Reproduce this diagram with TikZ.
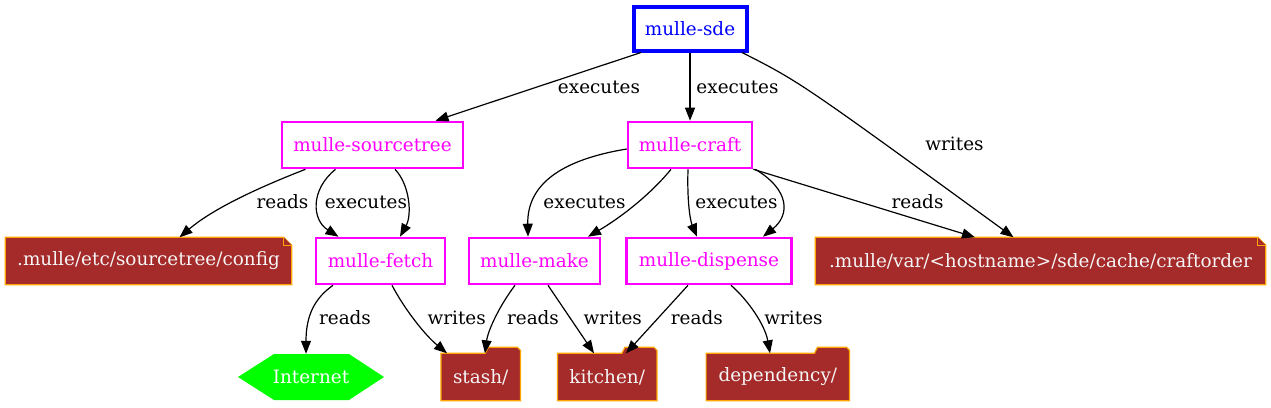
\documentclass[tikz,border=0pt]{standalone}
\usepackage{fontspec}
\setmainfont{DejaVu Serif}
\usetikzlibrary{arrows.meta,backgrounds,calc}
\definecolor{nbrown}{HTML}{A52A2A}
\definecolor{norange}{HTML}{FFA500}
\definecolor{ngreen}{HTML}{00FF00}
\definecolor{nmag}{HTML}{FF00FF}
\definecolor{nblue}{HTML}{0000FF}
\begin{document}
\begin{tikzpicture}[x=1pt,y=-1pt,
  font=\fontsize{18.4}{22}\selectfont,
  every node/.style={inner sep=0pt},
  toolbox/.style={draw=nmag, line width=2.6pt, text=nmag, minimum height=46pt},
  topbox/.style={draw=nblue, line width=4pt, text=nblue, minimum width=113pt, minimum height=44pt},
  filenode/.style={text=white!96!black, minimum height=47pt},
  lbl/.style={text=black},
  edge/.style={line width=1.2pt, -{Triangle[length=13pt,width=10pt]}},
  shapeln/.style={fill=nbrown, draw=norange, line width=1.2pt, line join=miter}
]
\useasboundingbox (0,0) rectangle (1271,407);

% tool nodes
\node[topbox] (sde) at (690,28.5) {mulle-sde};
\node[toolbox, minimum width=181pt] (st) at (372.5,145) {mulle-sourcetree};
\node[toolbox, minimum width=124pt] (craft) at (690,145) {mulle-craft};
\node[toolbox, minimum width=129pt] (fetch) at (380.5,261) {mulle-fetch};
\node[toolbox, minimum width=131pt] (make) at (534.5,261) {mulle-make};
\node[toolbox, minimum width=165pt] (disp) at (709,261) {mulle-dispense};

% notes
\node[filenode, minimum width=286pt] (cfg) at (148.5,261) {.mulle/etc/sourcetree/config};
\node[filenode, minimum width=450pt] (co) at (1040.5,261) {.mulle/var/<hostname>/sde/cache/craftorder};

% folders
\node[filenode, minimum width=79pt] (stash) at (480.7,377) {stash/};
\node[filenode, minimum width=99pt] (kit) at (607.2,377) {kitchen/};
\node[filenode, minimum width=143pt] (dep) at (777.8,377) {dependency/};

% internet
\node[text=white, minimum width=146pt, minimum height=46pt] (inet) at (311,377) {Internet};

\begin{scope}[on background layer]
  \foreach \n in {cfg,co}{
    \draw[shapeln] (\n.south west) -- (\n.north west) -- ([xshift=-8pt]\n.north east)
      -- ([yshift=-8pt]\n.north east) -- (\n.south east) -- cycle;
    \draw[shapeln] ([xshift=-8pt]\n.north east) -- ([xshift=-8pt,yshift=-8pt]\n.north east)
      -- ([yshift=-8pt]\n.north east);
  }
  \foreach \n in {stash,kit,dep}{
    \draw[shapeln] (\n.south west) -- (\n.north west) -- ([xshift=-35pt]\n.north east)
      -- ([xshift=-32pt,yshift=6pt]\n.north east) -- ([xshift=-3pt,yshift=6pt]\n.north east)
      -- ([yshift=3pt]\n.north east) -- (\n.south east) -- cycle;
  }
  \fill[ngreen] ($(inet.center)+(-73,0)$) -- ($(inet.center)+(-37,-23)$) -- ($(inet.center)+(38,-23)$)
    -- ($(inet.center)+(73,0)$) -- ($(inet.center)+(38,23)$) -- ($(inet.center)+(-37,23)$) -- cycle;
\end{scope}

% edges
\draw[edge] ([xshift=-49pt]sde.south) -- ([xshift=63pt]st.north);
\draw[edge] (sde.south) -- (craft.north);
\draw[edge] ([xshift=52pt]sde.south) .. controls (800,82) .. ([xshift=-27pt]co.north);
\draw[edge] ([xshift=-67pt]st.south) .. controls (265,185) and (215,207) .. ([xshift=31pt]cfg.north);
\draw[edge] ([xshift=-37pt]st.south) .. controls (310,190) and (312,220) .. ([xshift=-42pt]fetch.north);
\draw[edge] ([xshift=22.5pt]st.south) .. controls (410,185) and (412,215) .. ([xshift=19.5pt]fetch.north);
\draw[edge] ([yshift=-4pt]craft.west) .. controls (560,160) and (527,185) .. ([xshift=-6.5pt]make.north);
\draw[edge] ([xshift=-19pt]craft.south) .. controls (650,195) and (620,218) .. ([xshift=53.5pt]make.north);
\draw[edge] ([xshift=-2pt]craft.south) .. controls (687,200) and (690,220) .. ([xshift=-12pt]disp.north);
\draw[edge] ([xshift=2pt]craft.south east) .. controls (790,190) and (790,215) .. ([xshift=54pt]disp.north);
\draw[edge] (craft.south east) -- ([xshift=-65.5pt]co.north);
\draw[edge] ([xshift=-47.5pt]fetch.south) .. controls (315,298) and (306,315) .. ([xshift=-5pt]inet.north);
\draw[edge] ([xshift=11.5pt]fetch.south) .. controls (405,310) and (425,335) .. ([xshift=-33.7pt]stash.north);
\draw[edge] ([xshift=-19.5pt]make.south) .. controls (500,305) and (488,330) .. ([xshift=4.3pt]stash.north);
\draw[edge] ([xshift=13.5pt]make.south) -- ([xshift=-13.2pt]kit.north);
\draw[edge] ([xshift=-21pt]disp.south) -- ([xshift=18.8pt]kit.north);
\draw[edge] ([xshift=22pt]disp.south) .. controls (748,300) and (765,325) .. ([xshift=-7.8pt]dep.north);

% labels
\node[lbl] (l1) at (599,87) {executes};
\node[lbl] (l2) at (737.5,87) {executes};
\node[lbl] (l3) at (954.5,144) {writes};
\node[lbl] (l4) at (282.5,202) {reads};
\node[lbl] (l5) at (366,202) {executes};
\node[lbl] (l6) at (584.5,202) {executes};
\node[lbl] (l7) at (736.5,202) {executes};
\node[lbl] (l8) at (917.5,202) {reads};
\node[lbl] (l9) at (345,318) {reads};
\node[lbl] (l10) at (456.7,318) {writes};
\node[lbl] (l11) at (533,318) {reads};
\node[lbl] (l12) at (612.8,318) {writes};
\node[lbl] (l13) at (696.8,318) {reads};
\node[lbl] (l14) at (793.5,318) {writes};
\end{tikzpicture}
\end{document}
